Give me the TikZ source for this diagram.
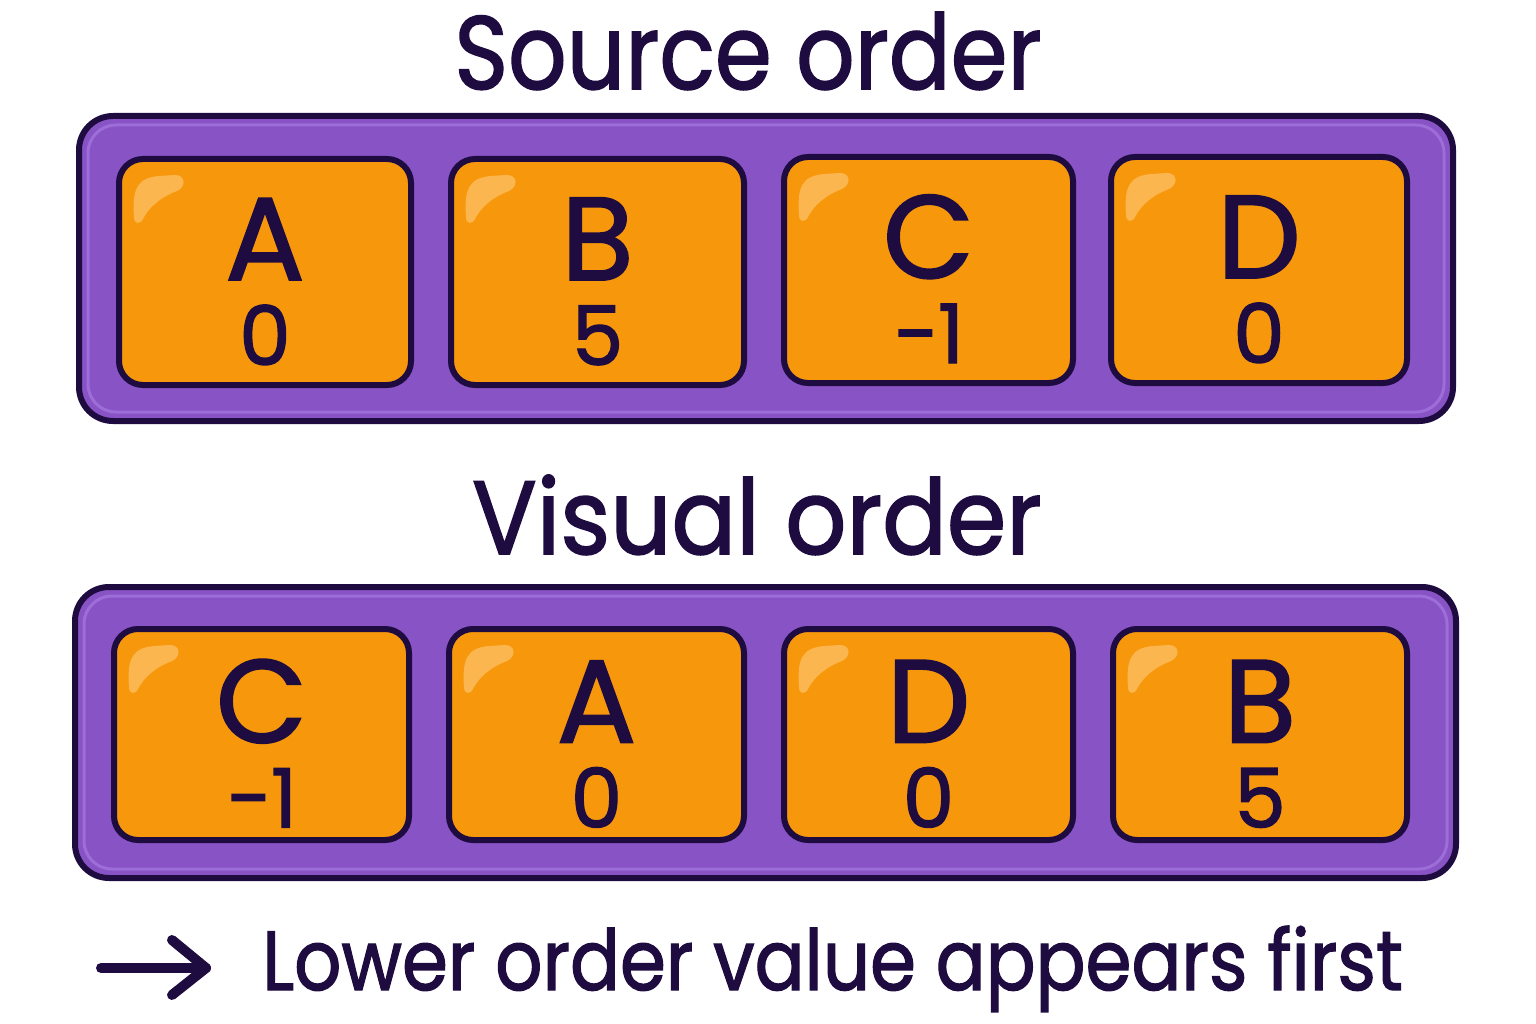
\documentclass[tikz,border=0pt]{standalone}
\usepackage{fontspec}
\usepackage{graphicx}
\setmainfont{Poppins}[FakeBold=1.6]
\usetikzlibrary{calc}
\definecolor{ink}{HTML}{1E0B40}
\definecolor{purp}{HTML}{8853C5}
\definecolor{purplite}{HTML}{9D6DD8}
\definecolor{orng}{HTML}{F7980C}
\definecolor{glare}{HTML}{FCB650}
\tikzset{
  outerbox/.style={draw=ink, fill=purp, line width=6pt, rounded corners=34pt},
  tile/.style={draw=ink, fill=orng, line width=6pt, rounded corners=24pt},
  tilelab/.style={text=ink, anchor=base, inner sep=0pt, align=center, font=\fontsize{118}{85}\selectfont},
  title/.style={text=ink, anchor=base, inner sep=0pt, font=\fontsize{104}{104}\selectfont},
  foot/.style={text=ink, anchor=base west, inner sep=0pt, font=\fontsize{84}{84}\selectfont},
  arrowline/.style={draw=ink, line width=10pt, line cap=round, line join=round}
}
% \tileat{name}{x0}{y0}{x1}{y1}{letter}{number}
\newcommand{\tileat}[7]{%
  \path[tile] (#2,#3) rectangle (#4,#5);
  \fill[glare] ({#2+15},{#3+58}) .. controls ({#2+13},{#3+30}) and ({#2+18},{#3+19}) .. ({#2+40},{#3+17})
     -- ({#2+56},{#3+16}) .. controls ({#2+66},{#3+16}) and ({#2+68},{#3+27}) .. ({#2+58},{#3+32})
     .. controls ({#2+42},{#3+38}) and ({#2+30},{#3+48}) .. ({#2+24},{#3+60})
     .. controls ({#2+21},{#3+66}) and ({#2+15},{#3+65}) .. cycle;
  \node[tilelab] (#1) at ({(#2+#4)/2},{(#3+#5)/2+93}) {#6\\{\fontsize{82}{85}\selectfont #7}};
}
\begin{document}
\begin{tikzpicture}[x=1pt,y=-1pt]
\useasboundingbox (0,0) rectangle (1536,1024);
% titles
\node[title] (t1) at (748,89) {\scalebox{0.88}[1]{Source order}};
\node[title] (t2) at (757,554) {\scalebox{0.92}[1]{Visual order}};
% top panel
\path[outerbox] (79,116) rectangle (1453,421);
\draw[purplite, line width=3pt, rounded corners=28pt] (88,125) rectangle (1444,412);
\tileat{sa}{119}{159}{411}{385}{A}{0}
\tileat{sb}{451}{159}{744}{385}{B}{5}
\tileat{sc}{784}{157}{1073}{383}{C}{\textminus1}
\tileat{sd}{1111}{157}{1407}{383}{D}{0}
% bottom panel
\path[outerbox] (75,587) rectangle (1456,878);
\draw[purplite, line width=3pt, rounded corners=28pt] (84,596) rectangle (1447,869);
\tileat{va}{114}{629}{409}{840}{C}{\textminus1}
\tileat{vb}{449}{629}{744}{840}{A}{0}
\tileat{vc}{784}{629}{1073}{840}{D}{0}
\tileat{vd}{1113}{629}{1407}{840}{B}{5}
% footer
\coordinate (aS) at (101,968);
\coordinate (aE) at (206,968);
\draw[arrowline] (aS) -- (aE);
\draw[arrowline] ($(aE)+(-34,-28)$) -- (aE) -- ($(aE)+(-34,27)$);
\node[foot] (ft) at (262,990) {\scalebox{0.88}[1]{Lower order value appears first}};
\end{tikzpicture}
\end{document}
